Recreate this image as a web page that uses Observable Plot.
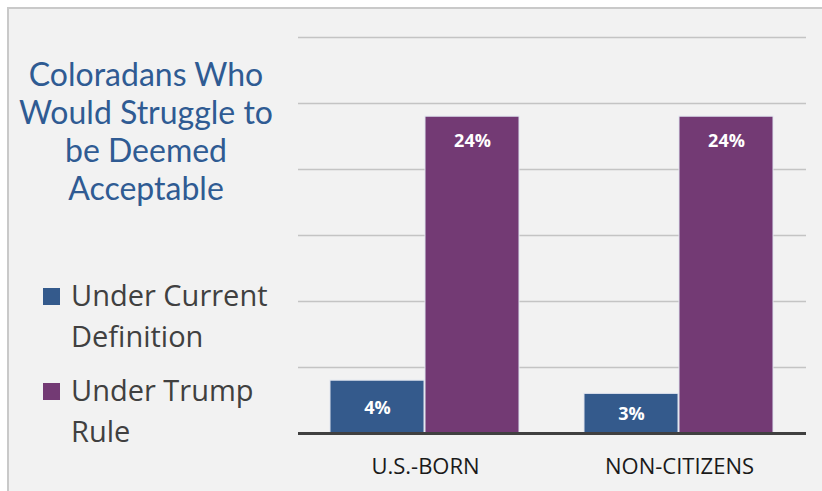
<!DOCTYPE html>
<html>
<head>
<meta charset="utf-8">
<script src="https://cdn.jsdelivr.net/npm/d3@7"></script>
<script src="https://cdn.jsdelivr.net/npm/@observablehq/plot@0.6"></script>
<style>
  html, body { margin: 0; padding: 0; background: #ffffff; width: 822px; height: 491px; overflow: hidden; }
  #frame { position: absolute; left: 7px; top: 7px; width: 830px; height: 500px; background: #f2f2f2;
           border-left: 2px solid #c9c9c9; border-top: 2px solid #c9c9c9; }
  #title { position: absolute; left: 6px; width: 280px; top: 55px; text-align: center;
           font-family: Lato, sans-serif; font-size: 32px; line-height: 38px; color: #2f5b93; }
  #legend { position: absolute; left: 43px; top: 274px; font-family: "Open Sans", sans-serif; font-size: 29px;
            line-height: 41px; color: #404040; }
  .item { position: relative; padding-left: 28px; width: 220px; margin-bottom: 13px; }
  .swatch { position: absolute; left: 0; top: 14px; width: 17px; height: 17px; }
  #chart { position: absolute; left: 0; top: 0; }
</style>
</head>
<body>
<div id="frame"></div>
<div id="title"></div>
<div id="legend"></div>
<div id="chart"></div>
<script>
const titleLines = ["Coloradans Who", "Would Struggle to", "be Deemed", "Acceptable"];
const categories = ["U.S.-BORN", "NON-CITIZENS"];
const series = ["Under Current Definition", "Under Trump Rule"];
const currentValues = [4, 3];
const trumpValues = [24, 24];
const seriesColors = ["#345a8c", "#733a74"];
const gridValues = [5, 10, 15, 20, 25, 30];

const data = [];
categories.forEach((c, i) => {
  data.push({category: c, series: series[0], value: currentValues[i]});
  data.push({category: c, series: series[1], value: trumpValues[i]});
});

document.getElementById("title").innerHTML = titleLines.join("<br>");
const legend = document.getElementById("legend");
series.forEach((s, i) => {
  const item = document.createElement("div");
  item.className = "item";
  const sw = document.createElement("div");
  sw.className = "swatch";
  sw.style.background = seriesColors[i];
  item.appendChild(sw);
  item.appendChild(document.createTextNode(s));
  legend.appendChild(item);
});

const fmt = d => d.value + "%";
const chart = Plot.plot({
  width: 822,
  height: 491,
  marginLeft: 298,
  marginRight: 16,
  marginTop: 37,
  marginBottom: 58,
  style: {background: "transparent", fontFamily: "'Open Sans', sans-serif", fontSize: "22px", color: "#1a1a1a"},
  fx: {domain: categories, padding: 0, axis: "bottom", label: null, tickSize: 0, tickPadding: 25},
  x: {domain: series, axis: null, paddingInner: 0.01, paddingOuter: 0.34},
  y: {domain: [0, 30], axis: null},
  color: {domain: series, range: seriesColors},
  marks: [
    Plot.ruleY(gridValues, {stroke: "#c4c4c4", strokeWidth: 1.5}),
    Plot.barY(data, {fx: "category", x: "series", y: "value", fill: "series", stroke: "#dfe3ee", strokeWidth: 1}),
    Plot.text(data.filter(d => d.value >= 10), {fx: "category", x: "series", y: "value", text: fmt, dy: 25,
      fill: "white", fontWeight: "bold", fontSize: 18}),
    Plot.text(data.filter(d => d.value < 10), {fx: "category", x: "series", y: d => d.value / 2, text: fmt, dy: 1,
      fill: "white", fontWeight: "bold", fontSize: 18}),
    Plot.ruleY([0], {stroke: "#404040", strokeWidth: 3})
  ]
});
document.getElementById("chart").appendChild(chart);
</script>
</body>
</html>
